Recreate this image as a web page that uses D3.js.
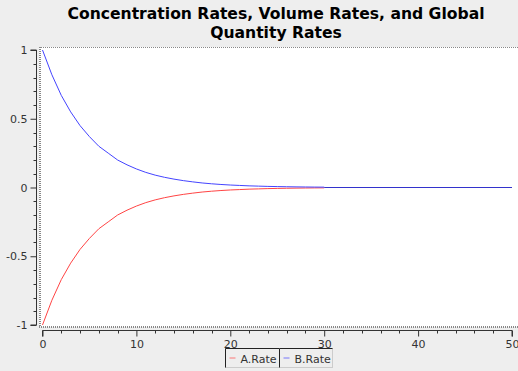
<!DOCTYPE html>
<html>
<head>
<meta charset="utf-8">
<script src="https://cdn.jsdelivr.net/npm/d3@7"></script>
<style>
  body { margin: 0; background: #eeeeee; }
  svg { display: block; font-family: "DejaVu Sans", sans-serif; }
</style>
</head>
<body>
<svg id="chart" width="518" height="371"></svg>
<script>
// values
const times = [0, 1, 2, 3, 4, 5, 6, 7, 8, 9, 10, 11, 12, 13, 14, 15, 16, 17, 18, 19, 20,
               21, 22, 23, 24, 25, 26, 27, 28, 29, 30];
const bRate = [1, 0.82, 0.67, 0.55, 0.45, 0.37, 0.30, 0.25, 0.20, 0.165, 0.135, 0.11, 0.09, 0.074,
               0.061, 0.05, 0.041, 0.033, 0.027, 0.022, 0.018, 0.015, 0.012, 0.01, 0.008, 0.0067,
               0.0055, 0.0045, 0.0037, 0.003, 0.0025];
const aRate = [-1, -0.82, -0.67, -0.55, -0.45, -0.37, -0.30, -0.25, -0.20, -0.165, -0.135, -0.11,
               -0.09, -0.074, -0.061, -0.05, -0.041, -0.033, -0.027, -0.022, -0.018, -0.015, -0.012,
               -0.01, -0.008, -0.0067, -0.0055, -0.0045, -0.0037, -0.003, -0.0025];
const tailTimes = [30, 50];
const tailValues = [0, 0];
const xTicks = [0, 10, 20, 30, 40, 50];
const yTicks = [-1, -0.5, 0, 0.5, 1];
const titleLines = ["Concentration Rates, Volume Rates, and Global", "Quantity Rates"];
const seriesNames = ["A.Rate", "B.Rate"];
const seriesColors = ["#ff4444", "#4444ff"];

const svg = d3.select("#chart");

const x = d3.scaleLinear().domain([0, 50]).range([42.5, 512]);
const y = d3.scaleLinear().domain([-1, 1]).range([325, 50]);

// title
svg.append("g")
    .selectAll("text")
    .data(titleLines)
    .join("text")
    .attr("x", 276)
    .attr("y", (d, i) => 19 + i * 19)
    .attr("text-anchor", "middle")
    .attr("font-weight", "bold")
    .attr("font-size", 15.6)
    .attr("fill", "#000")
    .text(d => d);

// plot area
svg.append("rect")
    .attr("x", 39).attr("y", 47)
    .attr("width", 479).attr("height", 280)
    .attr("fill", "#fff");

const border = svg.append("g")
    .attr("stroke", "#888")
    .attr("stroke-dasharray", "1,1")
    .attr("fill", "none");
border.append("line").attr("x1", 39).attr("x2", 518).attr("y1", 47.5).attr("y2", 47.5);
border.append("line").attr("x1", 39.5).attr("x2", 39.5).attr("y1", 47).attr("y2", 327);
border.append("line").attr("x1", 40.5).attr("x2", 40.5).attr("y1", 47).attr("y2", 327);
border.append("line").attr("x1", 39).attr("x2", 518).attr("y1", 326.5).attr("y2", 326.5);
border.append("line").attr("x1", 39).attr("x2", 518).attr("y1", 327.5).attr("y2", 327.5);

// y axis
const yAxis = svg.append("g")
    .attr("transform", "translate(36.5,0)")
    .call(d3.axisLeft(y).tickValues(yTicks).tickSize(6).tickPadding(3)
        .tickFormat(d => String(d)));
yAxis.append("g")
    .selectAll("line")
    .data(d3.range(-10, 11).map(v => v / 10).filter(v => !yTicks.some(t => Math.abs(t - v) < 1e-9)))
    .join("line")
    .attr("x1", 0).attr("x2", -3)
    .attr("y1", d => Math.round(y(d)) + 0.5).attr("y2", d => Math.round(y(d)) + 0.5)
    .attr("stroke", "#333");

// x axis
const xAxis = svg.append("g")
    .attr("transform", "translate(0,330.5)")
    .call(d3.axisBottom(x).tickValues(xTicks).tickSize(6).tickPadding(4));
xAxis.append("g")
    .selectAll("line")
    .data(d3.range(0, 51, 2).filter(v => v % 10 !== 0))
    .join("line")
    .attr("x1", d => Math.round(x(d)) + 0.5).attr("x2", d => Math.round(x(d)) + 0.5)
    .attr("y1", 0).attr("y2", 3)
    .attr("stroke", "#333");

[yAxis, xAxis].forEach(a => {
    a.select(".domain").attr("stroke", "#333");
    a.selectAll(".tick line").attr("stroke", "#333");
    a.selectAll("text").attr("fill", "#333").attr("font-size", 11)
        .attr("font-family", "DejaVu Sans, sans-serif");
});
yAxis.select(".domain").attr("d", `M-6,${y(1)}H0V${y(-1)}H-6`);
xAxis.select(".domain").attr("d", `M${x(0)},6V0H${x(50)}V6`);

// series
const line = d3.line()
    .x(d => x(d[0]))
    .y(d => y(d[1]));

const seriesData = [
    d3.zip(times, aRate),
    d3.zip(times, bRate)
];

svg.append("g")
    .selectAll("path")
    .data(seriesData)
    .join("path")
    .attr("d", line)
    .attr("fill", "none")
    .attr("stroke", (d, i) => seriesColors[i])
    .attr("stroke-width", 1);

svg.append("path")
    .attr("d", line(d3.zip(tailTimes, tailValues)))
    .attr("fill", "none")
    .attr("stroke", "#3333cc")
    .attr("stroke-width", 1);

// legend
const legend = svg.append("g").attr("transform", "translate(225.5,348.5)");
const cellW = [54, 53];
const cells = legend.selectAll("g")
    .data(seriesNames)
    .join("g")
    .attr("transform", (d, i) => `translate(${i === 0 ? 0 : cellW[0]},0)`);
cells.append("rect")
    .attr("width", (d, i) => cellW[i]).attr("height", 19)
    .attr("fill", "#eeeeee")
    .attr("stroke", "#ccc");
cells.append("path")
    .attr("d", (d, i) => `M0,19V0H${cellW[i]}`)
    .attr("fill", "none")
    .attr("stroke", "#222");
cells.append("line")
    .attr("x1", 4).attr("x2", 10)
    .attr("y1", 9.5).attr("y2", 9.5)
    .attr("stroke", (d, i) => seriesColors[i])
    .attr("stroke-opacity", 0.7)
    .attr("stroke-width", 1);
cells.append("text")
    .attr("x", 15).attr("y", 14)
    .attr("font-size", 11)
    .attr("fill", "#333")
    .text(d => d);
</script>
</body>
</html>
